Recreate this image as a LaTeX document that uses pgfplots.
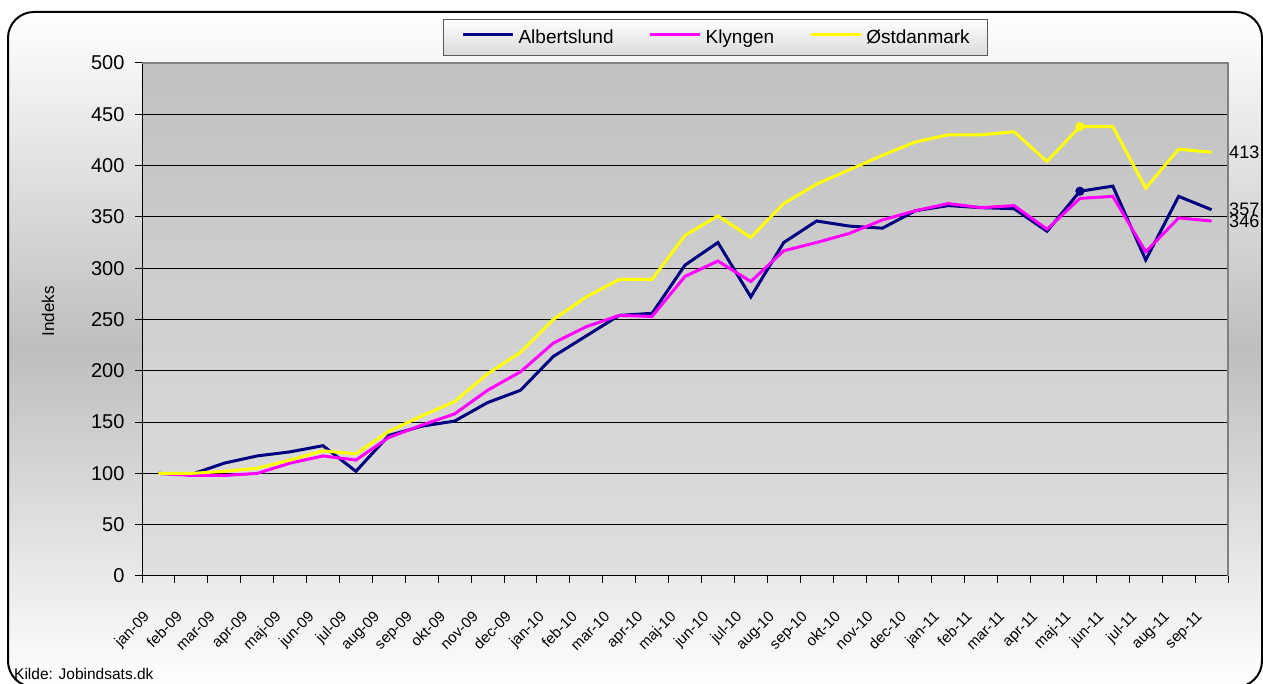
\documentclass[border=0pt]{standalone}
\usepackage{pgfplots}
\pgfplotsset{compat=1.18}
\usepackage{pgfplotstable}
\usepackage{fontspec}
\setmainfont{Liberation Sans}
\definecolor{navyc}{RGB}{0,0,128}
\definecolor{magc}{RGB}{255,0,255}
\definecolor{yelc}{RGB}{255,255,0}
\definecolor{plottop}{RGB}{193,193,193}
\definecolor{plotbot}{RGB}{223,223,223}
\definecolor{bgmid}{RGB}{190,190,190}
\definecolor{legbot}{RGB}{218,218,218}
\definecolor{framegray}{RGB}{128,128,128}

\pgfplotstableread{
idx alb kly ost
0 100 100 100
1 99 98 100
2 110 98 102
3 117 100 105
4 121 110 113
5 127 117 122
6 102 113 119
7 137 135 141
8 146 147 156
9 151 158 170
10 169 181 197
11 181 199 218
12 214 227 250
13 234 243 272
14 254 254 289
15 256 253 289
16 303 292 332
17 325 307 351
18 272 287 330
19 325 317 363
20 346 325 382
21 341 334 396
22 339 347 410
23 356 356 423
24 361 363 430
25 359 359 430
26 358 361 433
27 336 338 404
28 375 368 438
29 380 370 438
30 308 316 378
31 370 349 416
32 357 346 413
}\datatable

\begin{document}
\begin{tikzpicture}[x=1pt,y=1pt]
\path[use as bounding box] (0,0) rectangle (1263,684);
\draw[line width=2pt, rounded corners=26pt, top color=white, bottom color=white, middle color=bgmid] (8,672) rectangle (1262,-3);
\begin{axis}[
  at={(142pt,108pt)}, anchor=south west,
  scale only axis, width=1086pt, height=513pt,
  xmin=-0.5, xmax=32.5, ymin=0, ymax=500,
  clip=false,
  axis x line*=bottom, axis y line*=left,
  axis line style={black, line width=1pt},
  axis background/.style={shade, top color=plottop, bottom color=plotbot},
  ytick={0,50,...,500},
  ymajorgrids, grid style={black, line width=1pt},
  xtick={0,...,32},
  xticklabels={jan-09,feb-09,mar-09,apr-09,maj-09,jun-09,jul-09,aug-09,sep-09,okt-09,nov-09,dec-09,jan-10,feb-10,mar-10,apr-10,maj-10,jun-10,jul-10,aug-10,sep-10,okt-10,nov-10,dec-10,jan-11,feb-11,mar-11,apr-11,maj-11,jun-11,jul-11,aug-11,sep-11},
  minor xtick={-0.5,0.5,...,32.5},
  major x tick style={draw=none},
  xticklabel style={font=\fontsize{15}{17}\selectfont, xshift=-16pt, yshift=-27pt, rotate=45, anchor=north east, inner sep=0pt},
  tick align=outside, tick pos=left,
  major tick length=7pt, minor tick length=7pt,
  tick style={black, line width=1pt},
  yticklabel style={font=\fontsize{20}{24}\selectfont, xshift=-7pt},
  /pgf/number format/assume math mode=true,
  legend style={
    at={(0.2772,1)}, anchor=north west, yshift=44pt,
    draw={rgb,255:red,90;green,90;blue,90}, line width=1pt,
    top color=white, bottom color=legbot,
    inner xsep=18pt, inner ysep=10.5pt,
    font=\fontsize{19}{21}\selectfont,
    nodes={inner sep=0pt},
    /tikz/every odd column/.append style={column sep=4pt},
    /tikz/every even column/.append style={column sep=35pt},
  },
  legend columns=3,
  legend image code/.code={\draw[#1, line width=3pt] (0pt,3pt) -- (50pt,3pt);},
]
\addplot[navyc, line width=3pt, mark=*, mark size=3pt, mark indices={29}] table[x=idx, y=alb] {\datatable};
\addlegendentry{Albertslund}
\addplot[magc, line width=3pt] table[x=idx, y=kly] {\datatable};
\addlegendentry{Klyngen}
\addplot[yelc, line width=3pt, mark=*, mark size=3pt, mark indices={29}] table[x=idx, y=ost] {\datatable};
\addlegendentry{Østdanmark}
\draw[framegray, line width=1.5pt] (rel axis cs:0,1) -- (rel axis cs:1,1) -- (rel axis cs:1,0);
\node[anchor=west, inner sep=0pt, xshift=17.5pt, font=\fontsize{18}{20}\selectfont] at (axis cs:32,413) {413};
\node[anchor=west, inner sep=0pt, xshift=17.5pt, font=\fontsize{18}{20}\selectfont] at (axis cs:32,357) {357};
\node[anchor=west, inner sep=0pt, xshift=17.5pt, font=\fontsize{18}{20}\selectfont] at (axis cs:32,346) {346};
\end{axis}
\node[rotate=90, font=\fontsize{17}{20}\selectfont] at (48,372.5) {Indeks};
\node[anchor=base west, inner sep=0pt, font=\fontsize{15.5}{18}\selectfont] at (14,4) {Kilde: Jobindsats.dk};
\end{tikzpicture}
\end{document}
